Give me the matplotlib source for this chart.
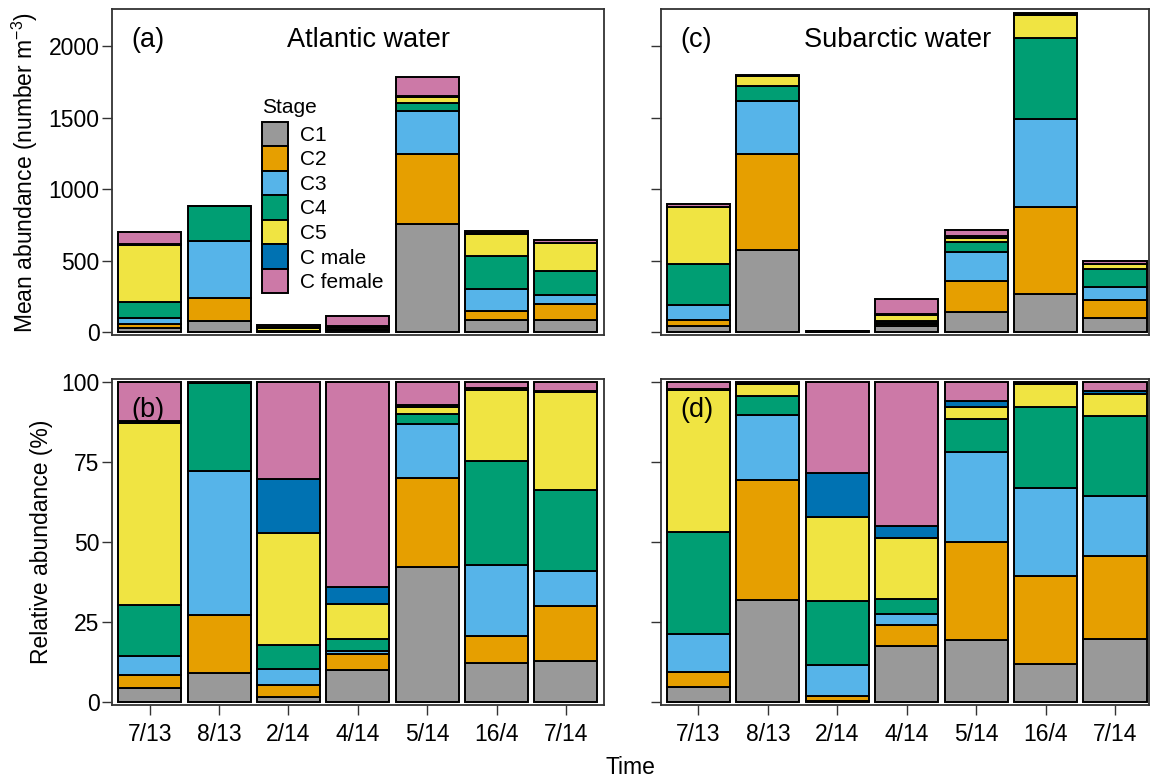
import numpy as np
import matplotlib
matplotlib.use('Agg')
import matplotlib.pyplot as plt
from matplotlib.patches import Patch

plt.rcParams['font.family'] = ['Liberation Sans', 'DejaVu Sans']

#====== data ======
dates = ['7/13', '8/13', '2/14', '4/14', '5/14', '16/4', '7/14']
stages = ['C1', 'C2', 'C3', 'C4', 'C5', 'C male', 'C female']
stage_cols = ['#999999', '#E69F00', '#56B4E9', '#009E73', '#F0E442', '#0072B2', '#CC79A7']

# mean abundance per sampling (number m-3)
atl_total = [701, 883, 49, 112, 1781, 706, 643]
sub_total = [895, 1799, 8, 233, 713, 2233, 494]

# stage composition (%) per sampling, columns in the order of `stages`
atl_pct = np.array([
    [4.3, 4.2, 5.8, 16.0, 57.0, 0.6, 12.1],
    [9.1, 18.2, 44.8, 27.5, 0.2, 0.0, 0.2],
    [1.7, 3.7, 5.0, 7.3, 35.0, 17.0, 30.3],
    [10.1, 4.9, 0.9, 3.9, 10.7, 5.6, 63.9],
    [42.3, 27.6, 17.0, 3.1, 2.3, 0.5, 7.2],
    [12.1, 8.7, 22.1, 32.5, 22.1, 0.5, 2.0],
    [12.7, 17.4, 10.7, 25.5, 30.5, 0.4, 2.8],
])
sub_pct = np.array([
    [4.8, 4.7, 11.9, 31.6, 44.5, 0.3, 2.2],
    [32.0, 37.3, 20.4, 5.9, 3.8, 0.2, 0.4],
    [0.3, 1.6, 9.6, 20.1, 26.3, 13.5, 28.6],
    [17.4, 6.7, 3.3, 4.8, 19.2, 3.7, 44.9],
    [19.5, 30.6, 28.0, 10.3, 3.7, 1.8, 6.1],
    [12.0, 27.3, 27.6, 25.3, 7.2, 0.3, 0.3],
    [19.8, 25.8, 18.8, 24.9, 6.8, 0.9, 3.0],
])

atl_abs = atl_pct / 100.0 * np.array(atl_total)[:, None]
sub_abs = sub_pct / 100.0 * np.array(sub_total)[:, None]
atl_rel = atl_abs / atl_abs.sum(axis=1, keepdims=True) * 100
sub_rel = sub_abs / sub_abs.sum(axis=1, keepdims=True) * 100


def stack(ax, vals):
    x = np.arange(len(dates))
    base = np.zeros(len(dates))
    for j in range(len(stages)):
        ax.bar(x, vals[:, j], 0.91, bottom=base, color=stage_cols[j],
               edgecolor='black', linewidth=1.4)
        base += vals[:, j]


def style(ax, xlim):
    ax.set_xlim(*xlim)
    for s in ax.spines.values():
        s.set_color('#333333')
        s.set_linewidth(1.3)
    ax.tick_params(direction='out', length=7, width=1, color='#333333',
                   labelsize=16.5, pad=2)
    ax.tick_params(axis='x', pad=6)


W, H = 1151, 778
fig = plt.figure(figsize=(W / 100, H / 100), dpi=100)


def add_axes(x0, x1, y0, y1):
    return fig.add_axes([x0 / W, 1 - y1 / H, (x1 - x0) / W, (y1 - y0) / H])


ax_a = add_axes(112, 604, 9, 335.5)
ax_c = add_axes(661, 1149, 9, 335.5)
ax_b = add_axes(112, 604, 379, 705)
ax_d = add_axes(661, 1149, 379, 705)

xl_left = (-0.545, 6.55)
xl_right = (-0.54, 6.49)

stack(ax_a, atl_abs)
stack(ax_c, sub_abs)
stack(ax_b, atl_rel)
stack(ax_d, sub_rel)

for ax, xl in [(ax_a, xl_left), (ax_c, xl_right)]:
    style(ax, xl)
    ax.set_ylim(-24, 2260)
    ax.set_yticks([0, 500, 1000, 1500, 2000])
    ax.set_xticks([])

for ax, xl in [(ax_b, xl_left), (ax_d, xl_right)]:
    style(ax, xl)
    ax.set_ylim(-0.9, 100.9)
    ax.set_yticks([0, 25, 50, 75, 100])
    ax.set_xticks(np.arange(len(dates)))
    ax.set_xticklabels(dates)

ax_c.tick_params(labelleft=False)
ax_d.tick_params(labelleft=False)

# panel letters and water mass names
for ax, lab in [(ax_a, '(a)'), (ax_b, '(b)'), (ax_c, '(c)'), (ax_d, '(d)')]:
    ax.text(0.04, 0.905, lab, transform=ax.transAxes, fontsize=19.5,
            ha='left', va='center')
ax_a.text(0.521, 0.905, 'Atlantic water', transform=ax_a.transAxes,
          fontsize=19.5, ha='center', va='center')
ax_c.text(0.485, 0.905, 'Subarctic water', transform=ax_c.transAxes,
          fontsize=19.5, ha='center', va='center')

ax_a.set_ylabel('Mean abundance (number m$^{\\mathregular{-3}}$)', fontsize=16.5, labelpad=6)
ax_b.set_ylabel('Relative abundance (%)', fontsize=16.5, labelpad=6)
fig.text(630 / W, 1 - 768 / H, 'Time', fontsize=16.5, ha='center', va='center')

# stage legend inside panel (a)
ax_a.text(0.304, 0.6815, 'Stage', transform=ax_a.transAxes, fontsize=15,
          ha='left', va='baseline')
handles = [Patch(facecolor=c, edgecolor='black', linewidth=1.4) for c in stage_cols]
leg = ax_a.legend(handles, stages, loc='upper left',
                  bbox_to_anchor=(0.304, 0.655), frameon=False, fontsize=15,
                  handlelength=1.28, handleheight=1.435,
                  handletextpad=0.56, labelspacing=0, borderpad=0,
                  borderaxespad=0)

fig.savefig('out.png', dpi=100)
